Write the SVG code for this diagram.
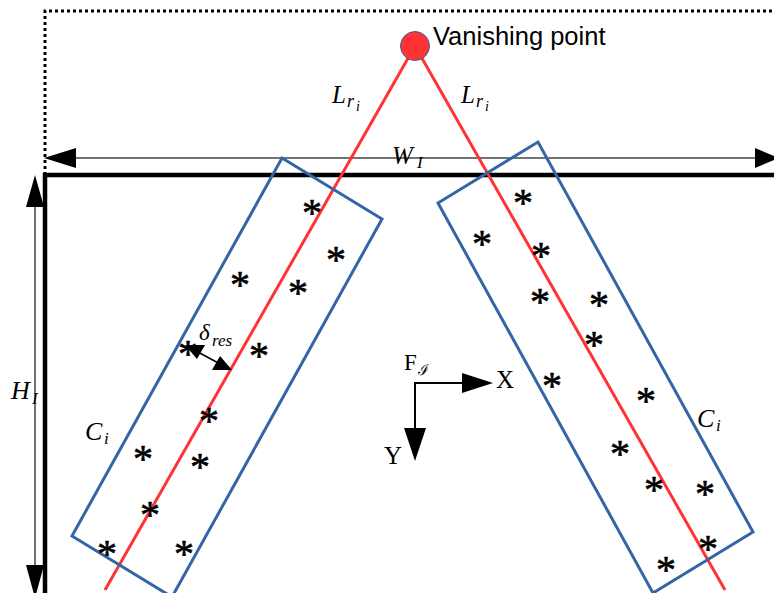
<svg xmlns="http://www.w3.org/2000/svg" width="774" height="593" viewBox="0 0 774 593">
<style>
.frame{fill:none;stroke:#000;stroke-width:4.5}
.dot{fill:none;stroke:#000;stroke-width:3;stroke-dasharray:3 3}
.dim{stroke:#444;stroke-width:1.5;fill:none}
.head{fill:#000}
.red{stroke:#ff3333;stroke-width:3;fill:none}
.blue{stroke:#3465a4;stroke-width:3;fill:none}
.ax{stroke:#000;stroke-width:2;fill:none}
.star{font-family:"Liberation Serif","DejaVu Serif",serif;font-size:40px;fill:#000;stroke:#000;stroke-width:0.6;text-anchor:middle}
.mi{font-family:"Liberation Serif","DejaVu Serif",serif;font-style:italic;fill:#000}
.rm{font-family:"Liberation Serif","DejaVu Serif",serif;fill:#000}
.sans{font-family:"Liberation Sans",Arial,sans-serif;fill:#000}
</style>
<g id="border">
<path class="dot" d="M45,175 V11 H774"/>
<path class="frame" d="M45,593 V175 H774"/>
</g>
<g id="connectors">
<g id="width-arrow">
<line class="dim" x1="70" y1="158" x2="760" y2="158"/>
<polygon class="head" points="44,158 76,148 76,168"/>
<polygon class="head" points="779,158 755,148 755,168"/>
</g>
<g id="height-arrow">
<line class="dim" x1="35" y1="200" x2="35" y2="570"/>
<polygon class="head" points="35,175 26,207 44,207"/>
<polygon class="head" points="35,598 26,565 44,565"/>
</g>
<line id="line-left" class="red" x1="415" y1="46" x2="105" y2="590"/>
<line id="line-right" class="red" x1="415" y1="46" x2="725" y2="590"/>
<g id="delta-arrow">
<line class="ax" x1="196" y1="351" x2="222" y2="365" style="stroke-width:1.5"/>
<polygon class="head" points="185,345 205,345 197,359"/>
<polygon class="head" points="232,370 212,370 220,356"/>
</g>
<g id="axes">
<path class="ax" d="M415,430 V383 H464"/>
<polygon class="head" points="493,383 462,373 462,393"/>
<polygon class="head" points="415,461 404,428 426,428"/>
</g>
</g>
<g id="vanishing-point">
<circle cx="415" cy="46" r="14.5" fill="#ff3333" stroke="#3465a4" stroke-width="1"/>
<text class="sans" x="433" y="45" font-size="25.5">Vanishing point</text>
</g>
<g id="cluster-left">
<polygon class="blue" points="282,158 382,219 172,597 72,536"/>
<g class="star">
<text x="312" y="226">*</text><text x="336" y="273">*</text><text x="240" y="298">*</text><text x="298" y="306">*</text>
<text x="188" y="367">*</text><text x="259" y="369">*</text><text x="209" y="434">*</text><text x="143" y="472">*</text>
<text x="200" y="480">*</text><text x="150" y="528">*</text><text x="107" y="567">*</text><text x="184" y="567">*</text>
</g>
</g>
<g id="cluster-right">
<polygon class="blue" points="438,203 538,142 753,532 653,593"/>
<g class="star">
<text x="523" y="216">*</text><text x="482" y="257">*</text><text x="541" y="269">*</text><text x="540" y="315">*</text>
<text x="599" y="318">*</text><text x="594" y="358">*</text><text x="552" y="399">*</text><text x="646" y="414">*</text>
<text x="620" y="467">*</text><text x="654" y="503">*</text><text x="705" y="507">*</text><text x="708" y="562">*</text>
<text x="666" y="583">*</text>
</g>
</g>
<g id="labels">
<text class="mi" x="332" y="103" font-size="25">L</text><text class="mi" x="347" y="107" font-size="18">r</text><text class="mi" x="356" y="111" font-size="14">i</text>
<text class="mi" x="461" y="103" font-size="25">L</text><text class="mi" x="476" y="107" font-size="18">r</text><text class="mi" x="485" y="111" font-size="14">i</text>
<text class="mi" x="392" y="164" font-size="25">W</text><text class="mi" x="417" y="168" font-size="17">I</text>
<text class="mi" x="11" y="399" font-size="26">H</text><text class="mi" x="32" y="404" font-size="17">I</text>
<text class="mi" x="85" y="440" font-size="26">C</text><text class="mi" x="104" y="444" font-size="17">i</text>
<text class="mi" x="697" y="427" font-size="26">C</text><text class="mi" x="716" y="431" font-size="17">i</text>
<text class="mi" x="199" y="340" font-size="23">δ</text><text class="mi" x="212" y="346" font-size="17">res</text>
<text class="rm" x="404" y="370" font-size="23">F</text><text class="rm" x="418" y="375" font-size="15">ℐ</text>
<text class="rm" x="496" y="388" font-size="25">X</text>
<text class="rm" x="384" y="464" font-size="25">Y</text>
</g>
</svg>
